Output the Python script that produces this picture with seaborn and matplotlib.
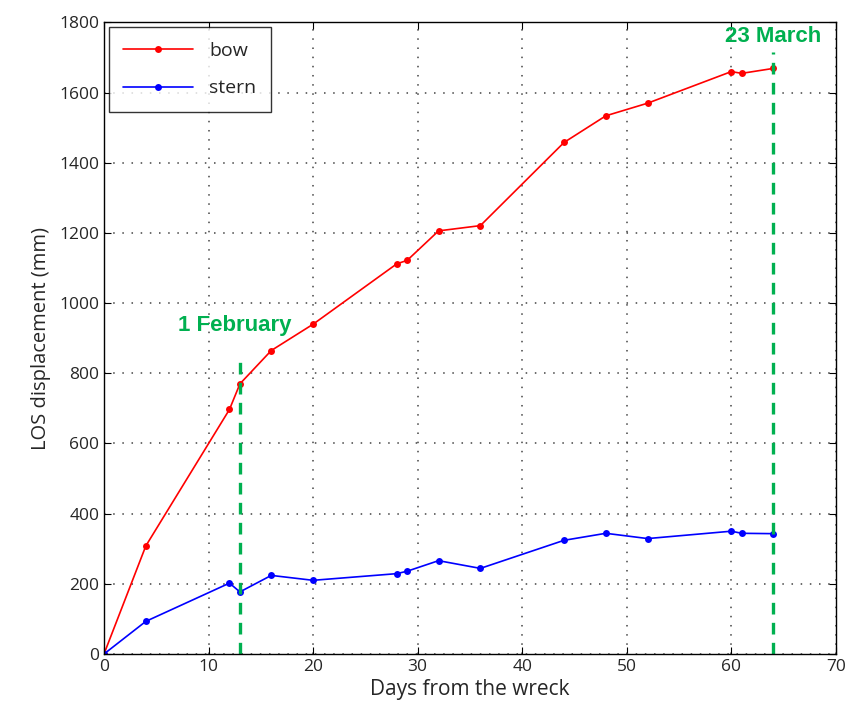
import pandas as pd
import seaborn as sns
import matplotlib.pyplot as plt

# Days from the wreck for each acquisition
days = [0, 4, 12, 13, 16, 20, 28, 29, 32, 36, 44, 48, 52, 60, 61, 64]
bow = [0, 308, 697, 770, 865, 940, 1112, 1122, 1206, 1221, 1458, 1534, 1570, 1660, 1655, 1669]
stern = [0, 93, 202, 177, 224, 210, 229, 236, 266, 244, 324, 344, 329, 350, 344, 343]

# Event markers
event_days = [13, 64]
event_tops = [855, 1715]
event_labels = ["1 February", "23 March"]

df = pd.DataFrame({"Days": days * 2,
                   "LOS": bow + stern,
                   "Part": ["bow"] * len(days) + ["stern"] * len(days)})

sns.set_style("white")
plt.rcParams["font.family"] = ["Open Sans", "DejaVu Sans"]

fig = plt.figure(figsize=(8.49, 7.16), dpi=100)
ax = fig.add_axes([0.1225, 0.0866, 0.862, 0.882])

sns.lineplot(data=df, x="Days", y="LOS", hue="Part", palette={"bow": "red", "stern": "blue"},
             marker="o", markersize=5, markeredgewidth=0, linewidth=1.2, ax=ax)

for d, top in zip(event_days, event_tops):
    ax.plot([d, d], [0, top], color="#00b050", linestyle=(0, (3.5, 2.5)), linewidth=2.4)
ax.text(12.5, 937, event_labels[0], color="#00b050", fontsize=16, fontweight="bold",
        ha="center", va="center", family=["Liberation Sans", "DejaVu Sans"])
ax.text(64, 1760, event_labels[1], color="#00b050", fontsize=16, fontweight="bold",
        ha="center", va="center", family=["Liberation Sans", "DejaVu Sans"])

ax.set_xlim(0, 70)
ax.set_ylim(0, 1800)
ax.set_xticks(range(0, 71, 10))
ax.set_yticks(range(0, 1801, 200))
ax.grid(True, color="#444444", linestyle=(0, (1, 5)), linewidth=1.1)
ax.tick_params(direction="in", length=5, labelsize=12.5, top=True, right=True,
               bottom=True, left=True, color="black")
for s in ax.spines.values():
    s.set_color("black")
    s.set_linewidth(1)
ax.set_xlabel("Days from the wreck", fontsize=15, labelpad=3)
ax.set_ylabel("LOS displacement (mm)", fontsize=14.5, labelpad=6)

leg = ax.legend(title=None, loc="upper left", fontsize=14, frameon=True, fancybox=False,
                edgecolor="black", handlelength=3.6, borderpad=0.75, labelspacing=1.0,
                handletextpad=0.8, borderaxespad=0.25)
leg.get_frame().set_linewidth(1)

fig.savefig("out.png", dpi=100)
